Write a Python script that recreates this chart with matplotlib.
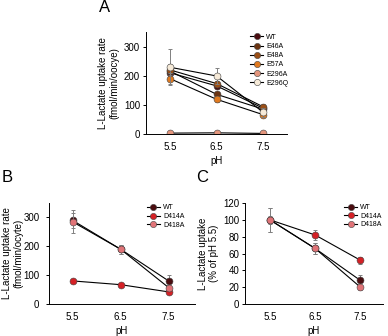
import matplotlib
matplotlib.use('Agg')
import matplotlib.pyplot as plt

plt.rcParams['font.family'] = ['Liberation Sans', 'DejaVu Sans']

ph = [5.5, 6.5, 7.5]

# panel A
names_a = ['WT', 'E46A', 'E48A', 'E57A', 'E296A', 'E296Q']
colors_a = ['#4a0d10', '#6b3412', '#9a4f17', '#e07a20', '#e3957c', '#f6ead8']
vals_a = [
    [210, 165, 88],
    [216, 136, 85],
    [220, 173, 93],
    [190, 119, 66],
    [3, 4, 2],
    [229, 199, 74],
]
err_a = [
    [20, 10, 10],
    [15, 8, 8],
    [20, 10, 10],
    [20, 10, 8],
    [2, 2, 2],
    [62, 28, 15],
]

# panel B and C
names_bc = ['WT', 'D414A', 'D418A']
colors_bc = ['#4a0d10', '#d42126', '#e07377']
vals_b = [
    [290, 190, 80],
    [80, 67, 42],
    [285, 190, 57],
]
err_b = [
    [25, 15, 20],
    [5, 5, 8],
    [40, 15, 10],
]
vals_c = [
    [100, 66, 28],
    [100, 82, 52],
    [100, 66, 20],
]
err_c = [
    [14, 6, 6],
    [5, 6, 4],
    [14, 6, 3],
]

W, H = 388.0, 336.0
fig = plt.figure(figsize=(3.88, 3.36), dpi=100)

def draw(ax, names, colors, vals, errs, yticks, ylim, xlim, ylabel, ylab_xy, leg_xy, leg_sp, ypad):
    for n, c, v, e in zip(names, colors, vals, errs):
        ax.errorbar(ph, v, yerr=e, fmt='none', ecolor='#808080', elinewidth=0.7,
                    capsize=1.5, capthick=0.7)
        ax.plot(ph, v, color='black', lw=0.8, marker='o', ms=5,
                mfc=c, mec='#444444', mew=0.4, label=n)
    ax.set_xlim(*xlim)
    ax.set_ylim(*ylim)
    ax.set_xticks(ph)
    ax.set_xticklabels(['5.5', '6.5', '7.5'])
    ax.set_yticks(yticks)
    ax.spines['top'].set_visible(False)
    ax.spines['right'].set_visible(False)
    ax.spines['left'].set_linewidth(0.7)
    ax.spines['bottom'].set_linewidth(0.7)
    ax.tick_params(labelsize=7, width=0.7, length=2, pad=ypad)
    ax.tick_params(axis='x', length=0, pad=6)
    ax.set_xlabel('pH', fontsize=7, labelpad=3)
    ax.set_ylabel(ylabel, fontsize=7, linespacing=1.15, ha='center', va='center')
    ax.yaxis.set_label_coords(ylab_xy[0] / W, 1 - ylab_xy[1] / H, transform=fig.transFigure)
    ax.legend(loc='upper left', bbox_to_anchor=(leg_xy[0] / W, 1 - leg_xy[1] / H),
              bbox_transform=fig.transFigure, frameon=False, fontsize=5,
              borderpad=0, borderaxespad=0, handlelength=1.9, handletextpad=0.45,
              labelspacing=leg_sp, markerscale=0.9)

ax_a = fig.add_axes([145.7 / W, 1 - 134 / H, 141 / W, 102 / H])
draw(ax_a, names_a, colors_a, vals_a, err_a, [0, 100, 200, 300], (0, 350), (4.98, 8.0),
     'L-Lactate uptake rate\n(fmol/min/oocye)', (109, 83), (250, 33.8), 0.32, 2)

ax_b = fig.add_axes([48.5 / W, 1 - 304 / H, 146.5 / W, 101 / H])
draw(ax_b, names_bc, colors_bc, vals_b, err_b, [0, 100, 200, 300], (0, 350), (5.0, 8.05),
     'L-Lactate uptake rate\n(fmol/min/ocyte)', (13, 253.5), (146.7, 204.3), 0.25, 4.5)

ax_c = fig.add_axes([245 / W, 1 - 304 / H, 138 / W, 101 / H])
draw(ax_c, names_bc, colors_bc, vals_c, err_c, [0, 20, 40, 60, 80, 100, 120], (0, 120), (4.95, 8.0),
     'L-Lactate uptake\n(% of pH 5.5)', (208.5, 253.5), (344, 204.2), 0.2, 2)

fig.text(105 / W, 1 - 8 / H, 'A', fontsize=12, ha='center', va='center')
fig.text(7 / W, 1 - 178 / H, 'B', fontsize=12, ha='center', va='center')
fig.text(202 / W, 1 - 178 / H, 'C', fontsize=12, ha='center', va='center')

fig.savefig('out.png', dpi=100)
